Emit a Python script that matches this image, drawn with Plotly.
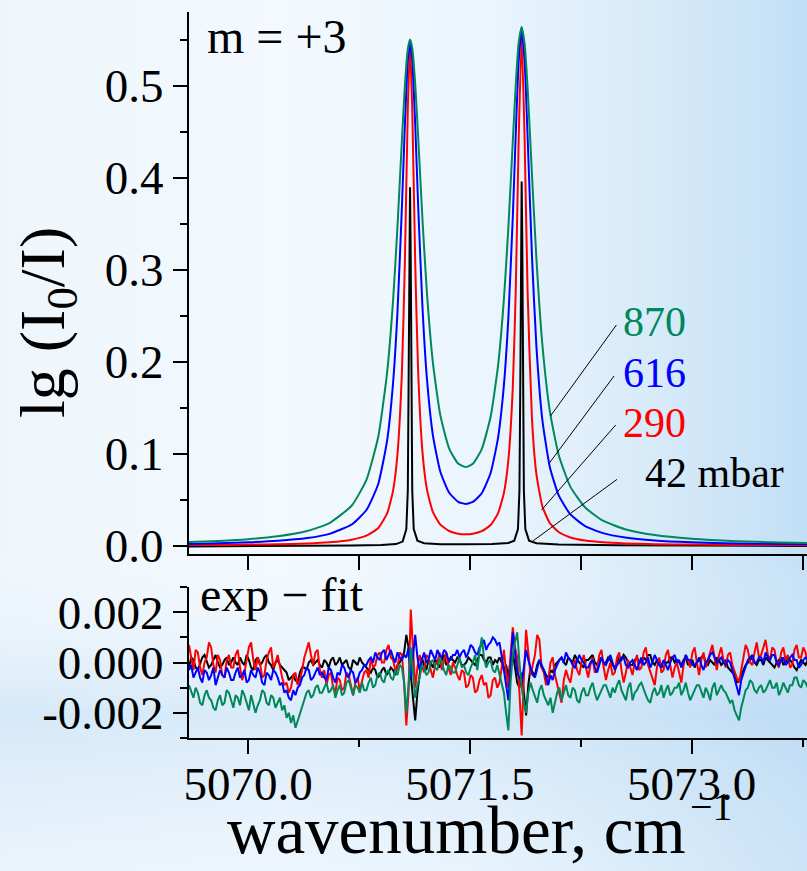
import base64
import plotly.graph_objects as go

# ---------------- data ----------------
# wavenumber grid for the three broad spectra (cm^-1)
X_MAIN = [5069.60, 5069.80, 5070.00, 5070.20, 5070.40, 5070.55, 5070.70, 5070.80, 5070.88, 5070.94,
          5070.98, 5071.01, 5071.04, 5071.06, 5071.08, 5071.095, 5071.11, 5071.13, 5071.15, 5071.18,
          5071.21, 5071.25, 5071.30, 5071.36, 5071.42, 5071.47, 5071.52, 5071.58, 5071.64, 5071.69,
          5071.73, 5071.76, 5071.79, 5071.81, 5071.83, 5071.85, 5071.87, 5071.89, 5071.92, 5071.95,
          5071.99, 5072.04, 5072.10, 5072.18, 5072.28, 5072.40, 5072.55, 5072.75, 5073.00, 5073.30,
          5073.60, 5073.80]

ABS_870 = [0.0040, 0.0052, 0.0071, 0.0103, 0.0160, 0.0247, 0.0435, 0.0715, 0.1185, 0.1882,
           0.2660, 0.3466, 0.4410, 0.4998, 0.5400, 0.5505, 0.5412, 0.5021, 0.4445, 0.3520,
           0.2734, 0.1985, 0.1418, 0.1057, 0.0894, 0.0855, 0.0891, 0.1051, 0.1402, 0.1953,
           0.2682, 0.3456, 0.4394, 0.5009, 0.5471, 0.5642, 0.5459, 0.4985, 0.4030, 0.3116,
           0.2191, 0.1470, 0.0990, 0.0640, 0.0415, 0.0272, 0.0180, 0.0116, 0.0076, 0.0050,
           0.0036, 0.0029]

ABS_616 = [0.0020, 0.0027, 0.0037, 0.0053, 0.0083, 0.0129, 0.0231, 0.0388, 0.0672, 0.1144,
           0.1765, 0.2539, 0.3681, 0.4567, 0.5276, 0.5469, 0.5282, 0.4579, 0.3699, 0.2567,
           0.1803, 0.1198, 0.0804, 0.0576, 0.0478, 0.0455, 0.0476, 0.0571, 0.0791, 0.1171,
           0.1746, 0.2474, 0.3573, 0.4471, 0.5273, 0.5608, 0.5267, 0.4459, 0.3142, 0.2163,
           0.1370, 0.0860, 0.0550, 0.0340, 0.0213, 0.0137, 0.0090, 0.0058, 0.0038, 0.0025,
           0.0019, 0.0016]

ABS_290 = [0.0008, 0.0009, 0.0012, 0.0016, 0.0024, 0.0037, 0.0065, 0.0109, 0.0193, 0.0351,
           0.0597, 0.0995, 0.1884, 0.3075, 0.4752, 0.5418, 0.4753, 0.3078, 0.1889, 0.1002,
           0.0607, 0.0365, 0.0230, 0.0160, 0.0131, 0.0124, 0.0130, 0.0158, 0.0225, 0.0352,
           0.0575, 0.0932, 0.1717, 0.2776, 0.4429, 0.5528, 0.4427, 0.2773, 0.1373, 0.0775,
           0.0430, 0.0247, 0.0149, 0.0090, 0.0056, 0.0037, 0.0025, 0.0017, 0.0012, 0.0009,
           0.0007, 0.0006]

# the 42 mbar spectrum is very narrow: its own, finer grid around the lines
X_42 = [5069.60, 5070.20, 5070.70, 5070.90, 5071.00, 5071.045, 5071.07, 5071.08, 5071.087, 5071.091,
        5071.095, 5071.099, 5071.103, 5071.11, 5071.12, 5071.145, 5071.19, 5071.30, 5071.47, 5071.65,
        5071.76, 5071.80, 5071.825, 5071.835, 5071.842, 5071.846, 5071.85, 5071.854, 5071.858, 5071.865,
        5071.875, 5071.90, 5071.95, 5072.10, 5072.50, 5073.10, 5073.80]
ABS_42 = [-0.0008, -0.0005, 0.0002, 0.0008, 0.0018, 0.0045, 0.018, 0.06, 0.20, 0.33,
          0.390, 0.33, 0.20, 0.06, 0.018, 0.0055, 0.0028, 0.0017, 0.0015, 0.0018,
          0.0030, 0.0055, 0.018, 0.06, 0.20, 0.335, 0.396, 0.335, 0.20, 0.06,
          0.018, 0.0055, 0.0028, 0.0012, 0.0004, 0.0000, -0.0002]

# residuals exp - fit, in units of 1e-4, on an even grid starting at RES_X0 with step RES_DX
RES_X0 = 5069.60
RES_DX = 0.015
RES_UNIT = 1e-4

RES_42 = [-2, 2, 1, -2, -3, 0, 2, 3, 0, -2, -1, 1, 3, 0, -2, -1, 1, 2, -1, 0,
          2, 0, -1, 2, 0, -1, 3, 1, -2, -3, 1, 2, -1, 0, 2, 3, 0, -1, -3, 0,
          1, -1, -2, -3, -4, -7, -6, -5, -7, -8, -4, -2, -2, -3, 0, 1, -1, 0, 1, -1,
          -2, 1, 0, -2, 1, 2, -1, 0, 2, -1, 0, 1, -2, -3, 1, 0, -1, 2, 0, -1,
          -2, -3, -4, -2, -3, -6, -5, -3, -2, -5, -4, -2, -3, -5, -1, 0, 2, 4, 11, 6,
          -5, -14, -23, -12, -5, 2, -1, -3, 1, 0, -2, 1, 0, -2, 1, 3, -1, 0, 2, 1,
          0, 2, 1, -1, -1, 0, 2, 1, 0, -1, 1, 3, 3, 1, 0, 2, 2, -1, 1, 0,
          2, 0, -3, -1, -6, 1, 4, -3, -8, -10, -4, -12, -21, -9, -2, -4, -5, -1, 1, -2,
          -3, -5, -6, -3, -4, -1, 0, 1, 2, 0, -1, 2, 1, 0, 3, 1, 0, -1, -2, 1,
          1, 2, 3, 0, -1, 1, 2, -1, 0, 2, 1, -1, -2, 0, 2, 1, 3, 2, 0, -1,
          -1, 1, 2, 0, 0, 2, 1, 3, 3, 0, -1, 1, 1, -1, -2, 0, 0, 2, 2, 0,
          1, 0, -1, 1, 2, -1, 0, 1, -2, 0, 1, 2, 3, 0, -1, 1, 0, -1, 2, 1,
          -1, 0, 1, -2, -3, -4, -5, -8, -7, -5, -3, -1, 0, 1, 2, 0, -1, 1, 1, -1,
          2, 1, 0, -1, -2, 0, 1, 2, -1, 0, 2, 1, 0, -2, -3, -1, 1, 0, -1, 1]

RES_290 = [7, 2, -3, 5, 4, -2, -5, 0, 2, 8, 6, -1, -4, 3, 1, -5, -6, 1, 3, -2,
           -2, 3, 5, -2, -7, -4, 2, 6, 8, 1, -3, 2, 0, -6, -5, 1, 4, 6, -2, 0,
           3, -2, -6, -9, -8, -12, -10, -5, -4, -9, -7, -3, 2, 5, 8, 3, -1, 4, 5, -3,
           -6, -3, -9, -5, -4, -10, -12, -6, -7, -11, -10, -4, -5, -9, -13, -8, -6, -11, -8, -4,
           -3, -6, 2, -2, -1, 3, 4, 0, 0, 5, 7, 2, 1, -3, -2, 4, 3, -8, -25, -12,
           21, 5, -10, -2, 3, -1, -4, 3, 2, -3, -6, -1, 0, 4, -3, 1, 4, -2, -5, 0,
           -2, -5, -7, -3, -4, -10, -9, -5, -6, -12, -11, -7, -5, -9, -8, -14, -13, -7, -6, -10,
           -8, -2, 5, -4, -10, 3, 14, 6, 2, -12, -29, -6, 13, 4, -5, -1, 3, 11, 9, -2,
           -4, -9, -7, 0, 2, -5, -9, -12, -16, -7, -3, -6, -8, -2, 1, -3, -5, 0, 3, -2,
           -6, -1, 2, -4, -3, 3, 5, -2, -7, -3, 0, -5, -4, 2, 4, -3, -8, -4, 1, -2,
           -5, 0, 3, -3, -2, 4, 6, -1, -4, -7, -9, -2, 2, -4, -3, 3, 5, -1, -6, -2,
           0, -4, -8, -1, 3, 1, -2, 4, 6, 0, -5, 1, 4, -2, 1, 5, 7, 2, -3, 3,
           6, 1, -2, 3, 4, -1, -4, -6, -8, -2, 2, 7, 5, 0, -1, 4, 8, 2, 3, 6,
           9, 3, 1, 6, 5, 0, -2, 4, 6, 1, 3, -2, -1, 5, 7, 2, 2, 6, 4, 0]

RES_616 = [-3, -1, -6, -4, -2, -6, -8, -3, -4, -7, -5, -2, -9, -6, -3, -5, -6, -2, -4, -7,
           -7, -4, -2, -6, -5, -3, -8, -7, -3, -5, -6, -2, -4, -8, -9, -4, -5, -7, -3, -4,
           -6, -9, -8, -12, -11, -14, -15, -11, -13, -10, -9, -6, -5, -2, -3, -7, -6, -4, -2, -5,
           -4, -6, -7, -2, -3, -6, -8, -4, -5, -1, -2, -5, -6, -3, -4, -8, -7, -4, -3, -1,
           -1, 1, 2, 0, 4, 2, 1, 4, 5, 1, 3, 5, 2, 0, 4, 2, 1, 3, 2, 6,
           -6, 3, 11, 2, -3, 1, 4, 0, 1, 5, 3, 1, 5, 3, 2, 5, 4, 1, 1, 3,
           3, 5, 2, 4, 5, 2, 4, 7, 6, 4, 3, 6, 7, 9, 5, 7, 8, 10, 9, 7,
           8, 3, -3, -9, -15, -2, 12, 4, -4, -6, -8, -2, 5, 1, -2, -5, -6, -3, 1, -1,
           -3, -6, -9, -5, -7, -3, -1, 1, 2, 0, 4, 2, 1, -1, -2, 1, 3, 1, 0, -2,
           -2, 0, 1, -2, -4, -1, 2, 0, -1, 1, 3, 0, -3, -1, 0, 2, 2, -1, -2, 0,
           1, -1, -3, 0, 2, -1, 0, 2, -2, 0, 3, 1, -1, -2, 1, -1, -3, 0, 2, 3,
           0, 1, -2, 0, 3, 1, 1, -1, -1, 0, 2, -1, -3, 0, 1, 3, 4, 2, 0, 1,
           2, 0, -1, 1, 0, -3, -6, -9, -13, -7, -4, -1, 1, 2, 3, 0, 0, 2, 2, 0,
           4, 2, 1, 3, 3, 0, -1, 1, 2, -1, 0, 2, 3, 1, 1, -2, -1, 1, 2, 1]

RES_870 = [-9, -12, -14, -10, -12, -16, -17, -13, -11, -14, -15, -18, -19, -15, -13, -17, -16, -11, -12, -15,
           -18, -13, -14, -17, -11, -13, -16, -19, -13, -16, -20, -17, -15, -11, -12, -16, -17, -13, -14, -18,
           -16, -14, -19, -17, -22, -20, -24, -21, -26, -23, -20, -17, -15, -12, -11, -14, -13, -10, -9, -12,
           -12, -10, -8, -12, -11, -9, -14, -11, -9, -13, -12, -8, -7, -10, -13, -9, -10, -12, -8, -11,
           -11, -8, -6, -10, -9, -5, -4, -7, -8, -4, -3, -6, -7, -3, -5, -1, -2, -8, -20, -9,
           6, -4, -14, -9, -6, -1, -2, -5, -4, 0, 1, -2, -3, 2, 0, -3, -5, -1, -2, -4,
           -4, -1, 2, -2, -1, -4, -5, -2, 0, 3, -3, 4, 10, 2, -2, 0, 1, -3, -4, -1,
           -5, -9, -12, -20, -27, -8, 3, 8, 12, 0, -10, -16, -20, -12, -8, -11, -14, -16, -11, -9,
           -13, -15, -17, -14, -20, -16, -12, -10, -15, -12, -9, -13, -14, -10, -11, -15, -16, -12, -10, -13,
           -13, -10, -8, -12, -15, -13, -11, -9, -9, -12, -14, -10, -12, -9, -7, -11, -13, -15, -10, -8,
           -15, -12, -11, -9, -8, -11, -13, -15, -16, -12, -10, -13, -12, -9, -14, -11, -9, -13, -12, -10,
           -10, -8, -13, -11, -8, -12, -15, -13, -11, -9, -9, -12, -14, -10, -12, -15, -10, -8, -13, -11,
           -9, -11, -12, -14, -16, -15, -19, -21, -23, -18, -14, -11, -10, -7, -8, -11, -12, -10, -9, -12,
           -11, -9, -7, -10, -10, -8, -13, -11, -8, -10, -12, -9, -9, -6, -6, -9, -10, -7, -8, -10]

SERIES_LABELS = ["42 mbar", "290", "616", "870"]
X_TICKS = [5070.0, 5071.5, 5073.0]
X_TICK_TEXT = ["5070.0", "5071.5", "5073.0"]
RES_TICKS = [-0.002, 0.0, 0.002]
RES_TICK_TEXT = ["-0.002", "0.000", "0.002"]

# ---------------- styling ----------------
W, H = 807, 871
FONT = "Liberation Serif"
C_K, C_R, C_B, C_G = "black", "#ff0000", "#0000ff", "#00875a"
X_RANGE = [5069.60, 5073.78]


def fx(p):
    return p / W


def fy(p):
    return 1 - p / H


svg = f'''<svg xmlns="http://www.w3.org/2000/svg" width="{W}" height="{H}" viewBox="0 0 {W} {H}" preserveAspectRatio="none">
<defs>
<linearGradient id="h" x1="0" y1="0" x2="1" y2="0">
<stop offset="0" stop-color="#eef6fc"/>
<stop offset="0.35" stop-color="#f3f9fe"/>
<stop offset="0.6" stop-color="#ebf5fd"/>
<stop offset="0.8" stop-color="#d8ebf9"/>
<stop offset="1" stop-color="#c2dff6"/>
</linearGradient>
<linearGradient id="v" x1="0" y1="0" x2="0" y2="1">
<stop offset="0" stop-color="#ffffff" stop-opacity="0"/>
<stop offset="0.62" stop-color="#ffffff" stop-opacity="0"/>
<stop offset="0.82" stop-color="#b8d8f3" stop-opacity="0.45"/>
<stop offset="1" stop-color="#e0eefa" stop-opacity="0.3"/>
</linearGradient>
</defs>
<rect width="{W}" height="{H}" fill="url(#h)"/>
<rect width="{W}" height="{H}" fill="url(#v)"/>
</svg>'''
bg_src = "data:image/svg+xml;base64," + base64.b64encode(svg.encode()).decode()

fig = go.Figure()

# top panel spectra
fig.add_trace(go.Scatter(x=X_42, y=ABS_42, mode="lines", line=dict(color=C_K, width=2),
                         xaxis="x", yaxis="y", hoverinfo="skip"))
for ys, col in [(ABS_290, C_R), (ABS_616, C_B), (ABS_870, C_G)]:
    fig.add_trace(go.Scatter(x=X_MAIN, y=ys, mode="lines",
                             line=dict(color=col, width=2, shape="spline", smoothing=0.5),
                             xaxis="x", yaxis="y", hoverinfo="skip"))

# bottom panel residuals
for res, col in [(RES_42, C_K), (RES_290, C_R), (RES_616, C_B), (RES_870, C_G)]:
    fig.add_trace(go.Scatter(y=[v * RES_UNIT for v in res], x0=RES_X0, dx=RES_DX, mode="lines",
                             line=dict(color=col, width=2), xaxis="x2", yaxis="y2", hoverinfo="skip"))

axis_common = dict(showline=True, linecolor="black", linewidth=2, ticks="outside", tickwidth=2,
                   tickcolor="black", showgrid=False, zeroline=False, automargin=False,
                   tickfont=dict(family=FONT, size=47, color="black"))

minor_style = dict(ticks="outside", ticklen=7, tickwidth=2, tickcolor="black", showgrid=False)

fig.update_layout(
    width=W, height=H, margin=dict(l=0, r=0, t=0, b=0, autoexpand=False),
    paper_bgcolor="#eef5fc", plot_bgcolor="rgba(0,0,0,0)", showlegend=False,
    font=dict(family=FONT, color="black"),
    images=[dict(source=bg_src, xref="paper", yref="paper", x=0, y=1, sizex=1, sizey=1,
                 xanchor="left", yanchor="top", sizing="stretch", layer="below")],
    xaxis=dict(domain=[fx(189), 1], range=X_RANGE, anchor="y", ticklen=14,
               tick0=5070, dtick=0.75, showticklabels=False, **axis_common),
    yaxis=dict(domain=[fy(554), fy(12)], range=[-0.009, 0.5805], anchor="x", ticklen=14,
               tick0=0, dtick=0.1, tickformat=".1f",
               minor=dict(tick0=0, dtick=0.05, **minor_style), **axis_common),
    xaxis2=dict(domain=[fx(189), 1], range=X_RANGE, anchor="y2", ticklen=14,
                tickmode="array", tickvals=X_TICKS, ticktext=X_TICK_TEXT, ticklabelstandoff=-10,
                minor=dict(tick0=5070, dtick=0.75, **minor_style), **axis_common),
    yaxis2=dict(domain=[fy(738), fy(587)], range=[-0.003, 0.003], anchor="x2", ticklen=14,
                tickmode="array", tickvals=RES_TICKS, ticktext=RES_TICK_TEXT,
                minor=dict(tick0=0, dtick=0.001, **minor_style), **axis_common),
)

# leader lines from curves to the pressure labels
LEADERS = [((5072.045, 0.1411), (5072.491, 0.2401)),
           ((5072.036, 0.0896), (5072.475, 0.1846)),
           ((5071.984, 0.0388), (5072.486, 0.1313)),
           ((5071.928, 0.0054), (5072.495, 0.0722))]
for (x0, y0), (x1, y1) in LEADERS:
    fig.add_shape(type="line", xref="x", yref="y", x0=x0, y0=y0, x1=x1, y1=y1,
                  line=dict(color="black", width=1))

LABEL_POS = [(5072.525, 0.2433, C_G, SERIES_LABELS[3]),
             (5072.525, 0.1884, C_B, SERIES_LABELS[2]),
             (5072.525, 0.1340, C_R, SERIES_LABELS[1]),
             (5072.672, 0.0796, C_K, SERIES_LABELS[0])]
for x, y, col, txt in LABEL_POS:
    fig.add_annotation(x=x, y=y, xref="x", yref="y", text=txt, showarrow=False,
                       xanchor="left", yanchor="middle",
                       font=dict(family=FONT, size=42, color=col))

# panel captions and axis titles
fig.add_annotation(x=fx(205), y=fy(37), xref="paper", yref="paper", text="m = +3", showarrow=False,
                   xanchor="left", yanchor="middle", font=dict(family=FONT, size=48, color="black"))
fig.add_annotation(x=fx(198), y=fy(594), xref="paper", yref="paper", text="exp \u2212 fit", showarrow=False,
                   xanchor="left", yanchor="middle", font=dict(family=FONT, size=48, color="black"))
fig.add_annotation(x=fx(47), y=fy(323), xref="paper", yref="paper", text="lg (I<sub>0</sub>/I)",
                   textangle=-90, showarrow=False, xanchor="center", yanchor="middle",
                   font=dict(family=FONT, size=64, color="black"))
fig.add_annotation(x=fx(456), y=fy(830), xref="paper", yref="paper",
                   text="wavenumber, cm", showarrow=False,
                   xanchor="center", yanchor="middle", font=dict(family=FONT, size=67, color="black"))
fig.add_annotation(x=fx(688), y=fy(806), xref="paper", yref="paper",
                   text="\u22121", showarrow=False,
                   xanchor="left", yanchor="middle", font=dict(family=FONT, size=40, color="black"))

fig.write_html("out.html")
